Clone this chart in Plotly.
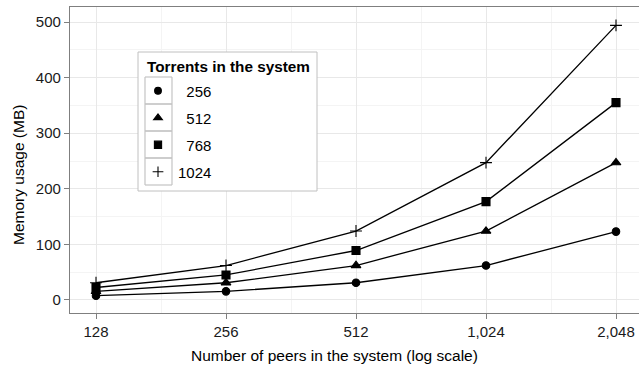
import math
import plotly.graph_objects as go

peers = [128, 256, 512, 1024, 2048]
torrents = ["256", "512", "768", "1024"]
mem_256 = [7.7, 15.5, 31, 62, 123]
mem_512 = [15.5, 31, 62, 124, 247]
mem_768 = [22.5, 45, 89, 177, 355]
mem_1024 = [31, 62, 124, 247, 494]
series = [mem_256, mem_512, mem_768, mem_1024]
symbols = ["circle", "triangle-up", "square", "cross-thin"]
sizes = [7.5, 8.5, 8, 8.5]
x_ticks = [128, 256, 512, 1024, 2048]
x_ticktext = ["128", "256", "512", "1,024", "2,048"]
x_minor = [181.02, 362.04, 724.08, 1448.15]
y_ticks = [0, 100, 200, 300, 400, 500]
y_minor = [50, 150, 250, 350, 450]

W, H = 639, 372
ML, MR, MT, MB = 70, 0, 7, 59
PW, PH = W - ML - MR, H - MT - MB


def px(v):
    return (v - ML) / PW


def py(v):
    return (MT + PH - v) / PH


fig = go.Figure()
for name, vals, sym, sz in zip(torrents, series, symbols, sizes):
    fig.add_trace(go.Scatter(
        x=peers, y=vals, mode="lines+markers", name=name,
        legendgroup=name,
        line=dict(color="black", width=1.3),
        marker=dict(symbol=sym, size=sz, color="black",
                    line=dict(color="black", width=1.1)),
        showlegend=False,
    ))
    fig.add_trace(go.Scatter(
        x=[None], y=[None], mode="markers", name=name.rjust(4, "\u2007"), legendgroup=name,
        marker=dict(symbol=sym, size=sz * 0.9, color="black",
                    line=dict(color="black", width=1.1)),
        showlegend=True,
    ))

l2 = math.log10(2)
xr = [(7 - 26 / 130) * l2, (7 + 543 / 130) * l2]

shapes = [
    dict(type="rect", xref="paper", yref="paper", x0=px(138), x1=px(317), y0=py(52), y1=py(191),
         line=dict(color="#c0c0c0", width=1), fillcolor="white", layer="above"),
]
for i in range(4):
    top = 77 + 27 * i
    for (xa, xb, ya, yb) in [(145, 172, top, top), (145, 172, top + 27, top + 27),
                             (145, 145, top, top + 27), (172, 172, top, top + 27)]:
        shapes.append(dict(type="line", xref="paper", yref="paper", x0=px(xa), x1=px(xb),
                           y0=py(ya), y1=py(yb), line=dict(color="#c4c4c4", width=1.2),
                           layer="above"))

annotations = [
    dict(text="<b>Torrents in the system</b>", xref="paper", yref="paper", x=px(145), y=py(66),
         xanchor="left", yanchor="middle", showarrow=False, font=dict(size=15.3, color="black")),
    dict(text="Memory usage (MB)", xref="paper", yref="paper", x=px(18), y=py(175),
         xanchor="center", yanchor="middle", textangle=-90, showarrow=False,
         font=dict(size=15.5, color="black")),
    dict(text="Number of peers in the system (log scale)", xref="paper", yref="paper",
         x=px(334), y=py(355), xanchor="center", yanchor="middle", showarrow=False,
         font=dict(size=15.5, color="black")),
]

fig.update_layout(
    width=W, height=H,
    margin=dict(l=ML, r=MR, t=MT, b=MB),
    paper_bgcolor="white", plot_bgcolor="white",
    font=dict(family="Liberation Sans, Arial, sans-serif", size=15, color="#1a1a1a"),
    shapes=shapes,
    annotations=annotations,
    xaxis=dict(
        type="log", range=xr, tickmode="array", tickvals=x_ticks, ticktext=x_ticktext,
        showgrid=True, gridcolor="#e8e8e8", gridwidth=1.2,
        minor=dict(tickmode="array", tickvals=x_minor, showgrid=True, gridcolor="#f4f4f4", gridwidth=1, ticks=""),
        ticks="outside", ticklen=5, tickcolor="#7f7f7f", tickwidth=1,
        showline=True, linecolor="#7f7f7f", linewidth=1.2, mirror=True,
        zeroline=False,
        tickfont=dict(size=15, color="#1a1a1a"),
    ),
    yaxis=dict(
        range=[-23.4, 527], tickmode="array", tickvals=y_ticks,
        showgrid=True, gridcolor="#e8e8e8", gridwidth=1.2,
        minor=dict(tickmode="array", tickvals=y_minor, showgrid=True, gridcolor="#f4f4f4", gridwidth=1, ticks=""),
        ticks="outside", ticklen=5, tickcolor="#7f7f7f", tickwidth=1,
        showline=True, linecolor="#7f7f7f", linewidth=1.2, mirror=False,
        zeroline=False,
        tickfont=dict(size=15, color="#1a1a1a"),
    ),
    legend=dict(
        x=px(138), y=py(74.5), xanchor="left", yanchor="top",
        borderwidth=0, bgcolor="rgba(0,0,0,0)",
        traceorder="grouped", tracegroupgap=4.5,
        font=dict(size=15, color="black"),
    ),
)

fig.write_html("out.html")
